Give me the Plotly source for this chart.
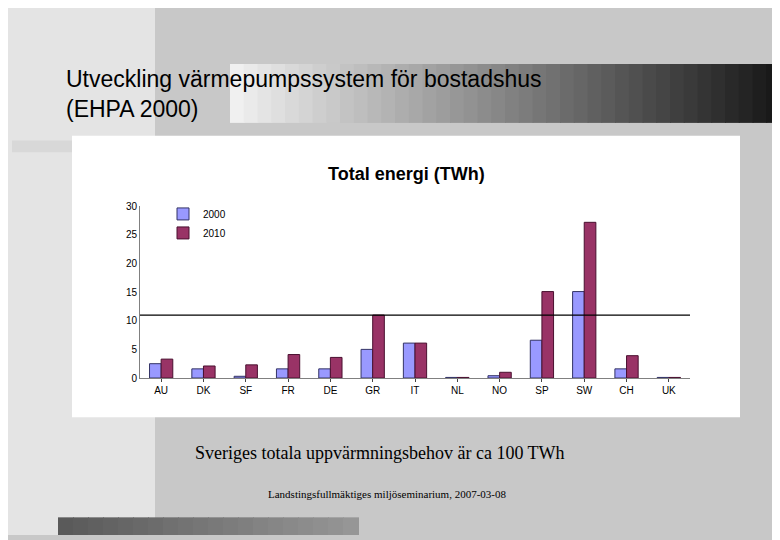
import plotly.graph_objects as go

countries = ["AU","DK","SF","FR","DE","GR","IT","NL","NO","SP","SW","CH","UK"]
y2000 = [2.5,1.6,0.3,1.6,1.6,5.0,6.1,0.1,0.4,6.6,15.1,1.6,0.1]
y2010 = [3.3,2.1,2.3,4.1,3.6,11.0,6.1,0.1,1.0,15.1,27.2,3.9,0.1]
ref_line = 11.0

OFF = 8
W, H = 780 - OFF, 540 - OFF
def px(x): return (x - OFF) / W
def py(y): return 1 - (y - OFF) / H

fig = go.Figure()
fig.add_bar(x=countries, y=y2000, name="2000", marker=dict(color="#9999ff", line=dict(color="#333366", width=1)))
fig.add_bar(x=countries, y=y2010, name="2010", marker=dict(color="#993366", line=dict(color="#4a1030", width=1)))
fig.add_hline(y=ref_line, line=dict(color="black", width=1.2))

shapes = []
def rect(x0, y0, x1, y1, color, layer="below"):
    shapes.append(dict(type="rect", xref="paper", yref="paper", x0=px(x0), x1=px(x1),
                       y0=py(y1), y1=py(y0), fillcolor=color, line=dict(width=0), layer=layer))
rect(0, 0, 155, 540, "#e4e4e4")
n = 40
for i in range(n):
    x0 = 230 + i * (550 / n); x1 = x0 + 550 / n + 1
    v = int(240 - (240 - 25) * i / (n - 1))
    rect(x0, 60, x1, 120, f"rgb({v},{v},{v})")
rect(12, 138, 72, 150, "#d8d8d8")
m = 20
for i in range(m):
    x0 = 58 + i * (300 / m); x1 = x0 + 300 / m + 1
    v = int(90 + 60 * i / (m - 1))
    rect(x0, 522, x1, 540, f"rgb({v},{v},{v})")
rect(72, 133, 740, 420, "white")
rect(162, 198, 202, 236, "white", layer="above")
fig.update_layout(shapes=fig.layout.shapes + tuple(shapes))

fig.update_layout(
    width=W, height=H, margin=dict(l=0, r=0, t=0, b=0),
    paper_bgcolor="#c8c8c8", plot_bgcolor="#c0c0c0",
    barmode="group", bargap=0.45, bargroupgap=0,
    font=dict(family="Liberation Sans, Arial", size=10, color="black"),
    xaxis=dict(domain=[px(140), px(690)], showgrid=False, ticks="outside", ticklen=3,
               linecolor="#808080", showline=True, tickfont=dict(size=10)),
    yaxis=dict(domain=[py(380), py(205)], range=[0, 30], dtick=5, showgrid=False,
               linecolor="#808080", showline=True, tickfont=dict(size=10)),
    legend=dict(x=px(163), y=py(198), xanchor="left", yanchor="top", bgcolor="rgba(0,0,0,0)",
                font=dict(size=10), itemwidth=30, tracegroupgap=2),
    annotations=[
        dict(text="Utveckling värmepumpssystem för bostadshus<br>(EHPA 2000)", x=px(64), y=py(60),
             xref="paper", yref="paper", xanchor="left", yanchor="top", showarrow=False, align="left",
             font=dict(size=23, family="Liberation Sans, Arial", color="black")),
        dict(text="<b>Total energi (TWh)</b>", x=px(407), y=py(160), xref="paper", yref="paper",
             showarrow=False, font=dict(size=18)),
        dict(text="Sveriges totala uppvärmningsbehov är ca 100 TWh", x=px(380), y=py(469),
             xref="paper", yref="paper", showarrow=False,
             font=dict(size=18, family="Liberation Serif, Times New Roman")),
        dict(text="Landstingsfullmäktiges miljöseminarium, 2007-03-08", x=px(387), y=py(506),
             xref="paper", yref="paper", showarrow=False,
             font=dict(size=11, family="Liberation Serif, Times New Roman")),
    ],
)
fig.write_html("out.html")
